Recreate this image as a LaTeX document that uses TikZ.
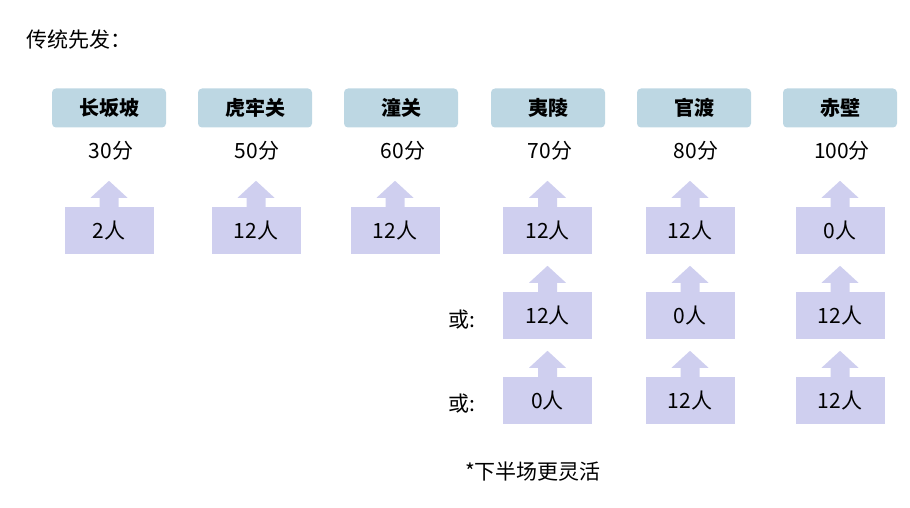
\documentclass[tikz,border=0pt]{standalone}
\usepackage{fontspec}
\setmainfont{Noto Sans CJK SC}
\begin{document}
\begin{tikzpicture}[x=1pt,y=-1pt,
  hdr/.style={fill=hdrblue,rounded corners=4pt,minimum width=114pt,minimum height=39pt,font=\fontsize{20}{23}\selectfont\bfseries,inner sep=0pt},
  bx/.style={fill=boxblue,minimum width=89pt,minimum height=47pt,font=\fontsize{21}{24}\selectfont,inner sep=0pt},
  lbl/.style={font=\fontsize{21}{24}\selectfont,inner sep=0pt},
  arr/.style={fill=boxblue}]
\definecolor{hdrblue}{HTML}{BDD7E3}
\definecolor{boxblue}{HTML}{CFCFEF}
\useasboundingbox (0,0) rectangle (910,508);
\node[lbl,anchor=west] (title) at (26,40) {传统先发：};
\foreach \n/\x/\t/\s in {a/109/长坂坡/30分,b/255/虎牢关/50分,c/401/潼关/60分,d/548/夷陵/70分,e/694/官渡/80分,f/840/赤壁/100分}{
  \node[hdr] (h\n) at (\x,108) {\t};
  \node[lbl] (s\n) at (\x+2,151) {\s};
}
\newcommand{\arrbox}[4]{%
  \node[bx] (#1) at (#2,#3) {#4};
  \fill[arr] (#1.north) ++(-9.5,0.5) -- ++(0,-9.5) -- ++(-9,0) -- ++(18.5,-17) -- ++(18.5,17) -- ++(-9,0) -- ++(0,9.5) -- cycle;}
\arrbox{a1}{109}{230.5}{2人}
\arrbox{b1}{256}{230.5}{12人}
\arrbox{c1}{395}{230.5}{12人}
\arrbox{d1}{547.5}{230.5}{12人}
\arrbox{e1}{690}{230.5}{12人}
\arrbox{f1}{840}{230.5}{0人}
\arrbox{d2}{547.5}{315.5}{12人}
\arrbox{e2}{690}{315.5}{0人}
\arrbox{f2}{840}{315.5}{12人}
\arrbox{d3}{547.5}{400.5}{0人}
\arrbox{e3}{690}{400.5}{12人}
\arrbox{f3}{840}{400.5}{12人}
\node[lbl] (or1) at (462,320) {或:};
\node[lbl] (or2) at (462,404) {或:};
\node[lbl] (note) at (533,472) {*下半场更灵活};
\end{tikzpicture}
\end{document}
